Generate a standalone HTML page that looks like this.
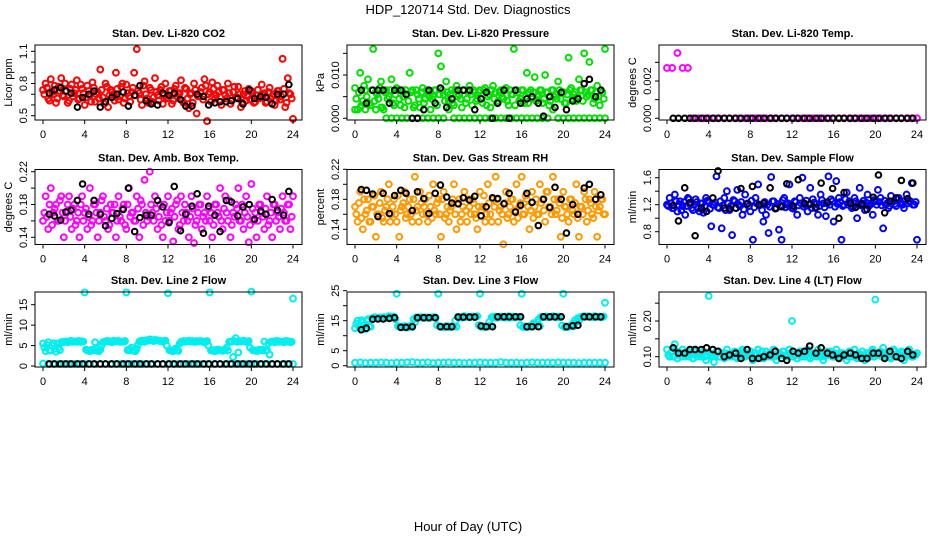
<!DOCTYPE html>
<html><head><meta charset="utf-8"><style>
html,body{margin:0;padding:0;background:#fff;}
svg{display:block;font-family:"Liberation Sans",sans-serif;}
</style></head><body>
<svg id="chart" width="936" height="540" viewBox="0 0 936 540" xmlns="http://www.w3.org/2000/svg">
<rect width="936" height="540" fill="#fff"/>
<text x="468" y="14" text-anchor="middle" font-size="13">HDP_120714  Std. Dev. Diagnostics</text>
<text x="468" y="531" text-anchor="middle" font-size="13">Hour of Day (UTC)</text>
</svg>
<script>
// shared calibration hours (black points)
const blackHours=[0.6,1.1,1.7,2.2,2.7,3.3,3.8,4.4,4.9,5.5,6.0,6.6,7.1,7.7,8.2,8.8,9.3,9.9,10.4,11.0,11.5,12.1,12.6,13.2,13.7,14.3,14.8,15.4,15.9,16.5,17.0,17.6,18.1,18.7,19.2,19.8,20.3,20.9,21.4,22.0,22.5,23.1,23.6];
const xTicks=[0,4,8,12,16,20,24];

const co2Vals=[0.74,0.80,0.66,0.84,0.70,0.62,0.77,0.85,0.68,0.73,0.64,0.79,0.71,0.83,0.66,0.75,0.60,0.78,0.69,0.81,0.63,0.72,0.93,0.67,0.80,0.58,0.74,0.70,0.90,0.65,0.77,0.62,0.79,0.68,0.72,0.90,1.12,0.71,0.60,0.82,0.66,0.76,0.63,0.85,0.69,0.74,0.61,0.80,0.67,0.73,0.64,0.78,0.70,0.83,0.62,0.75,0.57,0.71,0.80,0.52,0.68,0.76,0.84,0.45,0.72,0.81,0.66,0.78,0.63,0.74,0.69,0.80,0.61,0.72,0.67,0.77,0.58,0.70,0.64,0.75,0.73,0.62,0.69,0.66,0.79,0.71,0.63,0.76,0.68,0.60,0.73,0.65,1.03,0.58,0.85,0.70,0.47];
const co2ValsB=[0.70,0.76,0.64,0.72,0.78,0.66,0.73,0.69,0.80,0.62,0.75,0.68,0.74,0.65,0.79,0.71,0.67,0.73,0.63,0.76,0.70,0.66,0.74,0.61,0.77,0.69,0.72,0.64,0.75,0.68,0.80,0.66,0.71,0.63,0.76,0.69,0.73,0.65,0.78,0.70,0.62,0.74,0.67,0.72,0.64,0.77,0.69,0.66,0.73,0.61,0.75,0.68,0.71,0.64,0.76,0.66,0.70,0.62,0.74,0.68,0.72,0.65,0.78,0.70,0.63,0.75,0.69,0.72,0.60,0.74,0.66,0.71,0.64,0.77,0.67,0.70,0.62,0.73,0.68,0.65,0.71,0.63,0.74,0.67,0.69,0.62,0.72,0.66,0.70,0.64,0.73,0.68,0.75,0.62,0.71,0.66];
const co2Black=[0.71,0.74,0.76,0.73,0.71,0.58,0.67,0.70,0.73,0.58,0.63,0.67,0.70,0.72,0.59,0.69,0.78,0.64,0.61,0.60,0.71,0.69,0.71,0.65,0.59,0.59,0.70,0.68,0.60,0.62,0.63,0.63,0.64,0.66,0.61,0.74,0.66,0.68,0.67,0.61,0.70,0.70,0.79];

const presVals=[0.007,0.002,0.0105,0.004,0.0065,0.009,0.003,0.016,0.006,0.0045,0.0085,0.002,0.0065,0.005,0.009,0.003,0.007,0.0045,0.0065,0.0025,0.0055,0.0105,0.0065,0.003,0.0055,0.0025,0.007,0.0045,0.006,0.002,0.005,0.0065,0.015,0.012,0.0055,0.0085,0.004,0.0065,0.003,0.0075,0.0055,0.0025,0.0065,0.0045,0.0075,0.003,0.006,0.0045,0.0065,0.0035,0.007,0.005,0.0025,0.0075,0.006,0.004,0.0065,0.0045,0.007,0.003,0.0055,0.016,0.0065,0.004,0.0065,0.0035,0.0105,0.006,0.0045,0.0095,0.005,0.0065,0.0035,0.01,0.006,0.004,0.0065,0.0055,0.0085,0.0045,0.006,0.0035,0.014,0.007,0.0055,0.004,0.009,0.0065,0.015,0.005,0.013,0.0065,0.0045,0.0075,0.003,0.006,0.016];
const presValsB=[0.0045,0.006,0.003,0.0075,0.005,0.0035,0.0065,0.004,0.0055,0.007,0.0025,0.006,0.0045,0.0065,0.0035,0.0055,0.0065,0.003,0.005,0.0065,0.004,0.006,0.0025,0.0065,0.0045,0.006,0.0035,0.0065,0.005,0.0045,0.0065,0.003,0.0055,0.0065,0.004,0.006,0.0055,0.0035,0.0065,0.005,0.0045,0.0065,0.0035,0.006,0.0055,0.0065,0.004,0.006,0.0045,0.0065,0.003,0.0055,0.0065,0.0045,0.0035,0.006,0.005,0.0065,0.004,0.0065,0.0055,0.003,0.006,0.0045,0.0065,0.005,0.0035,0.0065,0.006,0.004,0.0055,0.0065,0.0045,0.006,0.003,0.0065,0.005,0.0045,0.0065,0.006,0.0035,0.0055,0.0065,0.0045,0.006,0.005,0.0065,0.004,0.006,0.0055,0.0065,0.0035,0.006,0.005,0.0065,0.0045];
const presLow=[0.002,0.0025,0.002,0.003,0.002,0.0025,0,0,0,0,0,0,0,0,0,0,0,0,0.002,0,0,0,0,0,0,0,0,0,0,0,0,0,0,0,0,0,0,0,0.002,0,0,0,0,0,0,0,0,0,0];
const presBlack=[0.0065,0.0035,0.0065,0.0065,0.0065,0.0035,0.0065,0.0065,0.0055,0,0,0.002,0.0065,0.0035,0.007,0.0025,0.0045,0.0065,0.0065,0.0065,0.002,0.0045,0.006,0,0.0035,0.0065,0,0.0065,0.0035,0.0045,0.005,0.0035,0.0005,0.005,0.0025,0.006,0.002,0.004,0.0045,0.008,0.009,0.005,0.0065];

const tempVals=[0.0027,0.0027,0.0035,0.0027,0.0027,0,0,0,0,0,0,0,0,0,0,0,0,0,0,0,0,0,0,0,0,0,0,0,0,0,0,0,0,0,0,0,0,0,0,0,0,0,0,0,0,0,0,0,0];
const tempBlack=[0,0,0,0,0,0,0,0,0,0,0,0,0,0,0,0,0,0,0,0,0,0,0,0,0,0,0,0,0,0,0,0,0,0,0,0,0,0,0,0,0,0,0];

const ambVals=[0.16,0.19,0.15,0.20,0.17,0.18,0.16,0.19,0.14,0.17,0.19,0.15,0.18,0.16,0.14,0.19,0.17,0.15,0.20,0.16,0.18,0.14,0.17,0.19,0.16,0.15,0.18,0.17,0.14,0.19,0.16,0.18,0.15,0.20,0.17,0.16,0.19,0.14,0.18,0.21,0.16,0.22,0.17,0.19,0.15,0.18,0.14,0.16,0.19,0.17,0.135,0.18,0.15,0.19,0.16,0.17,0.14,0.19,0.133,0.16,0.18,0.15,0.17,0.19,0.16,0.14,0.18,0.17,0.20,0.15,0.19,0.16,0.14,0.17,0.18,0.20,0.16,0.15,0.19,0.134,0.205,0.16,0.14,0.18,0.17,0.15,0.19,0.16,0.14,0.18,0.17,0.15,0.19,0.16,0.18,0.15,0.19];
const ambValsB=[0.17,0.165,0.18,0.155,0.175,0.16,0.185,0.17,0.16,0.18,0.165,0.175,0.155,0.17,0.18,0.16,0.175,0.165,0.155,0.18,0.17,0.16,0.185,0.165,0.175,0.155,0.17,0.18,0.16,0.165,0.175,0.155,0.18,0.165,0.17,0.16,0.175,0.185,0.155,0.17,0.165,0.18,0.16,0.175,0.165,0.155,0.18,0.17,0.16,0.175,0.165,0.185,0.155,0.17,0.18,0.16,0.165,0.175,0.155,0.17,0.18,0.165,0.16,0.175,0.17,0.155,0.18,0.165,0.16,0.175,0.17,0.185,0.155,0.165,0.175,0.16,0.18,0.17,0.165,0.155,0.175,0.17,0.16,0.18,0.165,0.175,0.155,0.17,0.18,0.16,0.165,0.175,0.17,0.16,0.18,0.165];
const ambBlack=[0.168,0.166,0.161,0.171,0.173,0.185,0.205,0.168,0.185,0.168,0.154,0.163,0.169,0.174,0.2,0.147,0.164,0.167,0.167,0.185,0.177,0.158,0.202,0.148,0.168,0.178,0.193,0.145,0.178,0.167,0.147,0.185,0.183,0.166,0.177,0.18,0.162,0.172,0.168,0.186,0.173,0.167,0.196];

const rhVals=[0.17,0.15,0.19,0.14,0.16,0.18,0.15,0.17,0.13,0.16,0.19,0.15,0.17,0.20,0.16,0.18,0.15,0.13,0.17,0.19,0.16,0.18,0.15,0.21,0.17,0.19,0.16,0.18,0.15,0.17,0.20,0.16,0.18,0.13,0.19,0.16,0.15,0.17,0.20,0.14,0.18,0.16,0.19,0.15,0.17,0.18,0.16,0.14,0.19,0.17,0.15,0.20,0.16,0.18,0.21,0.15,0.17,0.12,0.19,0.16,0.18,0.15,0.20,0.17,0.21,0.16,0.18,0.14,0.19,0.17,0.16,0.20,0.18,0.15,0.19,0.17,0.21,0.16,0.18,0.13,0.19,0.17,0.15,0.18,0.16,0.20,0.13,0.17,0.19,0.15,0.18,0.16,0.19,0.13,0.17,0.18,0.16];
const rhValsB=[0.16,0.175,0.155,0.18,0.165,0.15,0.17,0.185,0.16,0.175,0.155,0.165,0.18,0.15,0.17,0.16,0.185,0.165,0.175,0.155,0.17,0.16,0.18,0.165,0.15,0.175,0.17,0.16,0.185,0.155,0.165,0.175,0.16,0.18,0.155,0.17,0.165,0.18,0.16,0.175,0.15,0.17,0.165,0.18,0.16,0.175,0.155,0.17,0.165,0.185,0.16,0.175,0.15,0.17,0.18,0.165,0.16,0.175,0.155,0.17,0.18,0.165,0.155,0.175,0.16,0.185,0.17,0.165,0.155,0.18,0.16,0.175,0.165,0.19,0.17,0.16,0.18,0.165,0.175,0.155,0.17,0.16,0.18,0.165,0.175,0.155,0.17,0.16,0.18,0.165,0.175,0.155,0.17,0.165,0.18,0.16];
const rhBlack=[0.193,0.192,0.187,0.157,0.188,0.161,0.185,0.192,0.188,0.165,0.190,0.181,0.161,0.188,0.199,0.183,0.175,0.174,0.182,0.179,0.184,0.158,0.170,0.182,0.181,0.174,0.188,0.163,0.172,0.188,0.176,0.145,0.180,0.169,0.196,0.180,0.135,0.173,0.160,0.195,0.200,0.180,0.186];

const flowVals=[1.2,1.3,1.15,1.35,1.1,1.25,1.18,1.05,1.3,1.2,1.12,1.28,1.15,1.22,1.08,1.3,1.25,0.88,1.2,1.62,1.15,0.85,1.3,1.4,1.12,0.75,1.25,1.42,1.18,1.05,1.35,1.22,1.1,0.68,1.3,1.5,1.2,0.95,1.05,0.78,1.61,1.25,1.15,0.83,0.68,1.3,1.2,1.5,1.15,1.25,1.05,1.3,1.6,1.2,1.1,1.45,1.28,1.15,1.05,1.35,1.22,1.03,1.62,1.28,0.95,1.55,1.3,0.68,1.2,1.38,1.25,1.15,1.3,1.0,1.45,1.22,1.12,1.35,1.2,1.05,1.25,1.42,1.3,0.85,1.2,1.15,1.33,1.25,1.18,1.3,1.22,1.15,1.35,1.25,1.52,1.2,0.68];
const flowValsB=[1.18,1.22,1.15,1.25,1.2,1.12,1.24,1.18,1.28,1.15,1.2,1.24,1.1,1.22,1.18,1.26,1.14,1.2,1.23,1.16,1.25,1.19,1.12,1.22,1.18,1.27,1.15,1.2,1.24,1.13,1.21,1.18,1.26,1.16,1.22,1.19,1.12,1.24,1.2,1.17,1.25,1.15,1.21,1.19,1.27,1.16,1.22,1.2,1.14,1.24,1.19,1.22,1.17,1.26,1.2,1.15,1.23,1.21,1.18,1.27,1.16,1.22,1.2,1.25,1.17,1.21,1.24,1.18,1.28,1.2,1.22,1.17,1.25,1.21,1.19,1.26,1.23,1.18,1.22,1.27,1.2,1.24,1.19,1.26,1.22,1.18,1.25,1.21,1.28,1.23,1.2,1.26,1.22,1.25,1.2,1.24];
const flowBlack=[1.19,0.96,1.45,1.23,0.74,1.15,1.1,1.3,1.7,1.15,1.14,1.15,1.44,1.21,1.47,1.2,1.22,1.45,1.14,1.17,1.51,1.18,1.57,1.22,1.21,1.16,1.52,1.24,1.44,1.0,1.38,1.22,1.16,1.21,1.13,1.31,1.64,1.08,1.25,1.3,1.56,1.29,1.52];

const line2Vals=[5.5,3.6,5.8,3.8,5.6,3.5,4.5,5.8,5.8,6.0,5.9,6.1,6.0,5.9,6.1,6.0,18,3.8,3.6,4.0,5.8,3.7,4.0,5.8,6.0,6.1,5.9,6.2,6.0,6.1,5.9,6.0,18,3.8,4.5,3.7,4.2,6.0,6.2,5.9,6.3,6.5,6.2,6.4,6.3,6.1,6.0,6.2,17.8,3.8,3.6,4.3,3.7,5.9,6.1,6.0,6.2,6.0,5.9,6.1,6.0,6.0,5.8,6.1,18,3.8,3.6,4.0,3.8,3.7,4.0,3.8,6.0,2.2,6.8,3.3,6.0,6.2,5.9,6.1,18.2,3.8,3.7,4.0,3.8,6.0,3.9,2.8,6.0,5.8,6.1,6.0,5.9,6.1,6.0,5.8,16.5];
const line2ValsB=[4.5,5.2,3.8,5.0,4.2,5.5,3.9,5.9,6.0,5.8,6.1,5.9,6.0,6.1,5.9,6.0,4.0,3.7,3.9,3.8,4.2,3.6,5.0,5.9,6.1,6.0,5.8,6.0,6.1,5.9,6.0,6.1,3.9,4.0,3.8,3.6,5.2,6.1,6.0,6.3,6.2,6.4,6.1,6.3,6.2,6.0,6.1,5.0,3.9,3.7,4.0,3.8,5.5,6.0,5.9,6.1,6.0,6.1,5.9,6.0,6.1,5.9,6.0,5.0,3.8,3.9,3.7,4.0,3.8,3.9,4.5,5.9,6.0,6.1,5.9,6.0,6.1,6.0,5.9,4.5,3.9,3.8,3.7,3.9,4.0,3.8,5.5,5.9,6.0,6.1,5.9,6.0,5.8,6.1,6.0,5.9];
const line2Base=[0.6,0.5,0.5,0.5,0.5,0.5,0.5,0.5,0.5,0.5,0.5,0.5,0.5,0.5,0.5,0.5,0.5,0.5,0.5,0.5,0.5,0.5,0.5,0.5,0.5,0.5,0.5,0.5,0.5,0.5,0.5,0.5,0.5,0.5,0.5,0.5,0.5,0.5,0.5,0.5,0.5,0.5,0.5,0.5,0.5,0.5,0.5,0.5,0.5];
const line2Black=[0.5,0.5,0.5,0.5,0.5,0.5,0.5,0.5,0.5,0.5,0.5,0.5,0.5,0.5,0.5,0.5,0.5,0.5,0.5,0.5,0.5,0.5,0.5,0.5,0.5,0.5,0.5,0.5,0.5,0.5,0.5,0.5,0.5,0.5,0.5,0.5,0.5,0.5,0.5,0.5,0.5,0.5,0.5];

const line3Vals=[12.5,15,12.8,14.5,12.2,15.5,13.0,16.0,16,15.8,16,16.2,15.8,16.5,16,16.3,24,13,12.8,13.2,12.7,13.0,12.9,14.5,16,16.2,16,16.1,15.9,16,16.2,16,24,13,12.8,13.2,13,12.9,13.1,13,16.2,16,16.5,16.3,16.1,16.4,16.2,16.5,24,13.2,12.8,13,13.3,16,16.3,16.1,16.4,16.2,16,16.5,16.3,16.1,16.2,16.3,24,13,12.8,13.2,13,14,14.5,13.2,16.2,16.4,16.1,16.3,16.5,16.2,16.4,16.3,24,13,12.9,13.2,13.1,14.5,15,16.3,16.5,16.3,16.4,16.2,16.5,16.3,16.4,16.2,21];
const line3ValsB=[14,13,15.2,13.5,14.8,13,15.8,16.2,15.9,16.1,16,15.9,16.2,16.1,16.4,15.5,13.2,12.9,13.1,12.8,13.1,13.3,15.5,16.1,16,16.2,15.9,16.1,16,16.1,16.2,13.5,13.1,12.9,13.0,13.2,12.8,13.2,15.0,16.3,16.1,16.4,16.2,16.3,16.2,16.4,16.3,13.5,13.0,12.9,13.2,14.5,16.2,16.4,16.0,16.3,16.1,16.4,16.2,16.0,16.4,16.1,16.2,13.5,12.9,13.1,12.9,13.3,14.2,13.8,15.5,16.3,16.2,16.4,16.2,16.3,16.4,16.1,16.2,13.4,12.8,13.0,13.1,14.0,15.2,15.8,16.2,16.4,16.3,16.5,16.3,16.2,16.4,16.3,16.1,16.4];
const line3Base=[1.0,1.1,0.9,1.0,1.0,1.1,1.0,0.9,1.0,1.0,1.1,1.2,1.0,1.0,1.1,0.9,1.0,1.0,1.1,1.0,1.0,0.9,1.0,1.0,1.1,1.0,1.0,1.0,1.2,1.0,1.0,1.0,0.9,1.0,1.1,1.0,1.0,1.0,1.0,1.1,1.0,1.0,1.0,0.9,1.0,1.0,1.0,1.0,1.0];
const line3Black=[12,12.5,15.5,15.6,15.6,15.8,16,12.8,12.8,13,16,16,16,16,13,13,13,16.2,16.2,16.2,16.2,13.2,13,13,16.3,16.3,16.3,16.3,16.3,13,13,13,16.3,16.3,16.3,16.3,13,13.3,13.5,16.3,16.3,16.3,16.3];

const line4Vals=[0.12,0.10,0.115,0.135,0.095,0.11,0.12,0.10,0.115,0.105,0.095,0.12,0.11,0.10,0.115,0.09,0.27,0.105,0.085,0.115,0.10,0.11,0.095,0.12,0.105,0.10,0.115,0.095,0.11,0.12,0.10,0.105,0.115,0.09,0.11,0.12,0.10,0.095,0.115,0.105,0.10,0.12,0.09,0.11,0.105,0.115,0.10,0.12,0.20,0.105,0.095,0.115,0.11,0.10,0.12,0.095,0.11,0.105,0.12,0.10,0.09,0.115,0.105,0.11,0.10,0.12,0.095,0.11,0.105,0.09,0.115,0.10,0.12,0.095,0.105,0.115,0.09,0.11,0.10,0.12,0.26,0.105,0.115,0.125,0.10,0.11,0.095,0.12,0.105,0.10,0.115,0.09,0.11,0.12,0.10,0.105,0.11];
const line4ValsB=[0.105,0.11,0.1,0.115,0.105,0.1,0.11,0.105,0.1,0.11,0.115,0.1,0.105,0.11,0.1,0.105,0.11,0.1,0.105,0.115,0.1,0.105,0.11,0.1,0.105,0.11,0.1,0.105,0.115,0.1,0.11,0.105,0.1,0.11,0.105,0.1,0.115,0.105,0.1,0.11,0.105,0.1,0.11,0.105,0.115,0.1,0.105,0.11,0.1,0.105,0.11,0.1,0.105,0.115,0.1,0.105,0.11,0.1,0.105,0.11,0.1,0.105,0.115,0.1,0.11,0.105,0.1,0.11,0.105,0.1,0.115,0.105,0.1,0.11,0.105,0.1,0.11,0.105,0.115,0.1,0.105,0.11,0.1,0.105,0.11,0.1,0.105,0.115,0.1,0.105,0.11,0.1,0.105,0.11,0.1,0.105];
const line4Black=[0.125,0.11,0.11,0.12,0.12,0.12,0.125,0.12,0.115,0.10,0.105,0.11,0.095,0.12,0.095,0.095,0.10,0.105,0.115,0.095,0.09,0.115,0.11,0.115,0.13,0.11,0.125,0.11,0.105,0.095,0.105,0.11,0.105,0.095,0.095,0.11,0.11,0.095,0.115,0.10,0.095,0.115,0.105];

const svg=document.getElementById('chart');
const NS='http://www.w3.org/2000/svg';
function mk(tag,attrs,parent){const e=document.createElementNS(NS,tag);for(const k in attrs)e.setAttribute(k,attrs[k]);(parent||svg).appendChild(e);return e;}

const panels=[
 {key:'co2',title:'Stan. Dev. Li-820 CO2',ylab:'Licor ppm',col:0,row:0,v0:0.5,p0:115.7,v1:1.1,p1:51.3,ticks:[0.5,0.6,0.7,0.8,0.9,1.0,1.1],labels:['0.5','0.8','1.1'],color:'#ff0000',series:[co2Vals],half:[co2ValsB],black:co2Black},
 {key:'pressure',title:'Stan. Dev. Li-820 Pressure',ylab:'kPa',col:1,row:0,v0:0,p0:118.3,v1:0.010,p1:75,ticks:[0,0.005,0.010,0.015],labels:['0.000','0.010'],color:'#00e000',series:[presVals,presLow],half:[presValsB],black:presBlack},
 {key:'temp',title:'Stan. Dev. Li-820 Temp.',ylab:'degrees C',col:2,row:0,v0:0,p0:118.3,v1:0.002,p1:81,ticks:[0,0.001,0.002,0.003],labels:['0.000','0.002'],color:'#ff00ff',series:[tempVals],half:[],black:tempBlack},
 {key:'ambbox',title:'Stan. Dev. Amb. Box Temp.',ylab:'degrees C',col:0,row:1,v0:0.14,p0:237.3,v1:0.22,p1:171.7,ticks:[0.14,0.16,0.18,0.20,0.22],labels:['0.14','0.18','0.22'],color:'#ff00ff',series:[ambVals],half:[ambValsB],black:ambBlack},
 {key:'rh',title:'Stan. Dev. Gas Stream RH',ylab:'percent',col:1,row:1,v0:0.14,p0:229.3,v1:0.22,p1:169.3,ticks:[0.14,0.16,0.18,0.20,0.22],labels:['0.14','0.18','0.22'],color:'#ff9900',series:[rhVals],half:[rhValsB],black:rhBlack},
 {key:'sampleflow',title:'Stan. Dev. Sample Flow',ylab:'ml/min',col:2,row:1,v0:0.8,p0:231.7,v1:1.6,p1:177.7,ticks:[0.8,1.0,1.2,1.4,1.6],labels:['0.8','1.2','1.6'],color:'#0000ff',series:[flowVals],half:[flowValsB],black:flowBlack},
 {key:'line2',title:'Stan. Dev. Line 2 Flow',ylab:'ml/min',col:0,row:2,v0:0,p0:366,v1:15,p1:304.7,ticks:[0,5,10,15],labels:['0','5','10','15'],color:'#00eeee',series:[line2Vals,line2Base],half:[line2ValsB],black:line2Black},
 {key:'line3',title:'Stan. Dev. Line 3 Flow',ylab:'ml/min',col:1,row:2,v0:0,p0:365.7,v1:25,p1:290.7,ticks:[0,5,10,15,20,25],labels:['0','5','15','25'],color:'#00eeee',series:[line3Vals,line3Base],half:[line3ValsB],black:line3Black},
 {key:'line4',title:'Stan. Dev. Line 4 (LT) Flow',ylab:'ml/min',col:2,row:2,v0:0.10,p0:356.7,v1:0.20,p1:321,ticks:[0.10,0.15,0.20,0.25],labels:['0.10','0.20'],color:'#00eeee',series:[line4Vals],half:[line4ValsB],black:line4Black}
];
const tops=[45,169.5,292];

panels.forEach(p=>{
  const ox=p.col*312, top=tops[p.row], bot=top+75;
  const left=35+ox, right=302+ox;
  const xs=h=>43+ox+h*250/24;
  const ys=v=>p.p0+(v-p.v0)*(p.p1-p.p0)/(p.v1-p.v0);
  const g=mk('g',{});
  
  
  const t=mk('text',{x:(left+right)/2,y:top-8,'text-anchor':'middle','font-size':'11','font-weight':'bold'},g);
  t.textContent=p.title;
  
  
  const yl=mk('text',{x:0,y:0,'text-anchor':'middle','font-size':'11',transform:`translate(${ox+12},${(top+bot)/2}) rotate(-90)`},g);
  yl.textContent=p.ylab;
  
  
  const pts=mk('g',{fill:'none',stroke:p.color,'stroke-width':'2'},g);
  
  
  p.series.forEach(arr=>{
    arr.forEach((v,i)=>{
      const c=mk('circle',{cx:xs(i*24/(arr.length-1)),cy:ys(v),r:2.9},pts);
      
      
    });
  });
  p.half.forEach(arr=>{
    arr.forEach((v,i)=>{
      const c=mk('circle',{cx:xs((i+0.5)*0.25),cy:ys(v),r:2.9},pts);
      
      
    });
  });
  const bk=mk('g',{fill:'none',stroke:'#000','stroke-width':'2'},g);
  
  
  p.black.forEach((v,i)=>{
    const c=mk('circle',{cx:xs(blackHours[i]),cy:ys(v),r:2.8},bk);
    
    
  });
  const bx=mk('rect',{x:left,y:top,width:right-left,height:75,fill:'none',stroke:'#000','stroke-width':'1'},g);
  
  
  const xa=mk('g',{stroke:'#000','stroke-width':'1'},g);
  
  
  xTicks.forEach(h=>{
    mk('line',{x1:xs(h),x2:xs(h),y1:bot,y2:bot+4},xa);
    const tl=mk('text',{x:xs(h),y:bot+18,'text-anchor':'middle','font-size':'11',stroke:'none',fill:'#000'},xa);
    tl.textContent=String(h);
    
    
  });
  const ya=mk('g',{stroke:'#000','stroke-width':'1'},g);
  
  
  p.ticks.forEach(v=>{
    mk('line',{x1:left-4,x2:left,y1:ys(v),y2:ys(v)},ya);
  });
  p.labels.forEach(s=>{
    const tl=mk('text',{x:0,y:0,'text-anchor':'middle','font-size':'11',stroke:'none',fill:'#000',transform:`translate(${left-8},${ys(parseFloat(s))}) rotate(-90)`},ya);
    tl.textContent=s;
    
    
  });
});
</script>
</body></html>
